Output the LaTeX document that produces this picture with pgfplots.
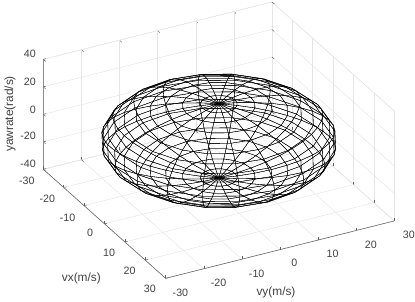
\documentclass[border=0pt]{standalone}
\usepackage{fontspec}
\setmainfont{Liberation Sans}
\usepackage{pgfplots}
\pgfplotsset{compat=1.18}
\definecolor{ax}{gray}{0.38}
\definecolor{txt}{gray}{0.25}
\definecolor{gr}{gray}{0.9}
\begin{document}
\begin{tikzpicture}
\path[use as bounding box] (0,0) rectangle (311.25pt,226.5pt);
\begin{axis}[
  at={(32.5pt,17.75pt)},anchor=south west,
  x={(1.529pt,-1.3625pt)},y={(2.8575pt,0.7175pt)},z={(0pt,1.03125pt)},
  xmin=-30,xmax=30,ymin=-30,ymax=30,zmin=-40,zmax=40,
  xtick={-30,-20,...,30},ytick={-30,-20,...,30},ztick={-40,-20,...,40},
  tick pos=left,
  grid=major,major grid style={gr,line width=0.35pt},
  axis line style={gr,line width=0.35pt},
  tick align=inside,major tick length=2.2pt,
  tick style={ax,line width=0.35pt},
  tick label style={font=\fontsize{8}{9}\selectfont,text=txt},
  x tick label style={xshift=-5.6pt,yshift=-0.2pt},
  y tick label style={xshift=7.6pt,yshift=-3pt},
  z tick label style={xshift=-2.2pt,yshift=2pt},
  /pgf/number format/assume math mode=true,
  clip=false,
  colormap={bk}{color(0)=(black) color(1)=(black)},
]
\addplot3[ax,line width=0.4pt] coordinates {(-30,-30,40) (-30,-30,-40) (30,-30,-40) (30,30,-40)};
\addplot3[mesh,mesh/rows=21,mesh/cols=21,line width=0.26pt,forget plot,z filter/.code={\pgfmathparse{#1-0.5}}] coordinates {
(0,0,-27)(0,0,-27)(0,0,-27)(0,0,-27)(0,0,-27)(0,0,-27)(0,0,-27)(0,0,-27)(0,0,-27)(0,0,-27)(0,0,-27)(0,0,-27)(0,0,-27)(0,0,-27)(0,0,-27)(0,0,-27)(0,0,-27)(0,0,-27)(0,0,-27)(0,0,-27)(0,0,-27)
(-4.27,0,-26.67)(-4.06,-1.32,-26.67)(-3.45,-2.51,-26.67)(-2.51,-3.45,-26.67)(-1.32,-4.06,-26.67)(0,-4.27,-26.67)(1.32,-4.06,-26.67)(2.51,-3.45,-26.67)(3.45,-2.51,-26.67)(4.06,-1.32,-26.67)(4.27,0,-26.67)(4.06,1.32,-26.67)(3.45,2.51,-26.67)(2.51,3.45,-26.67)(1.32,4.06,-26.67)(0,4.27,-26.67)(-1.32,4.06,-26.67)(-2.51,3.45,-26.67)(-3.45,2.51,-26.67)(-4.06,1.32,-26.67)(-4.27,0,-26.67)
(-8.44,0,-25.68)(-8.03,-2.61,-25.68)(-6.83,-4.96,-25.68)(-4.96,-6.83,-25.68)(-2.61,-8.03,-25.68)(0,-8.44,-25.68)(2.61,-8.03,-25.68)(4.96,-6.83,-25.68)(6.83,-4.96,-25.68)(8.03,-2.61,-25.68)(8.44,0,-25.68)(8.03,2.61,-25.68)(6.83,4.96,-25.68)(4.96,6.83,-25.68)(2.61,8.03,-25.68)(0,8.44,-25.68)(-2.61,8.03,-25.68)(-4.96,6.83,-25.68)(-6.83,4.96,-25.68)(-8.03,2.61,-25.68)(-8.44,0,-25.68)
(-12.39,0,-24.06)(-11.78,-3.83,-24.06)(-10.02,-7.28,-24.06)(-7.28,-10.02,-24.06)(-3.83,-11.78,-24.06)(0,-12.39,-24.06)(3.83,-11.78,-24.06)(7.28,-10.02,-24.06)(10.02,-7.28,-24.06)(11.78,-3.83,-24.06)(12.39,0,-24.06)(11.78,3.83,-24.06)(10.02,7.28,-24.06)(7.28,10.02,-24.06)(3.83,11.78,-24.06)(0,12.39,-24.06)(-3.83,11.78,-24.06)(-7.28,10.02,-24.06)(-10.02,7.28,-24.06)(-11.78,3.83,-24.06)(-12.39,0,-24.06)
(-16.05,0,-21.84)(-15.26,-4.96,-21.84)(-12.98,-9.43,-21.84)(-9.43,-12.98,-21.84)(-4.96,-15.26,-21.84)(0,-16.05,-21.84)(4.96,-15.26,-21.84)(9.43,-12.98,-21.84)(12.98,-9.43,-21.84)(15.26,-4.96,-21.84)(16.05,0,-21.84)(15.26,4.96,-21.84)(12.98,9.43,-21.84)(9.43,12.98,-21.84)(4.96,15.26,-21.84)(0,16.05,-21.84)(-4.96,15.26,-21.84)(-9.43,12.98,-21.84)(-12.98,9.43,-21.84)(-15.26,4.96,-21.84)(-16.05,0,-21.84)
(-19.30,0,-19.09)(-18.36,-5.96,-19.09)(-15.61,-11.34,-19.09)(-11.34,-15.61,-19.09)(-5.96,-18.36,-19.09)(0,-19.30,-19.09)(5.96,-18.36,-19.09)(11.34,-15.61,-19.09)(15.61,-11.34,-19.09)(18.36,-5.96,-19.09)(19.30,0,-19.09)(18.36,5.96,-19.09)(15.61,11.34,-19.09)(11.34,15.61,-19.09)(5.96,18.36,-19.09)(0,19.30,-19.09)(-5.96,18.36,-19.09)(-11.34,15.61,-19.09)(-15.61,11.34,-19.09)(-18.36,5.96,-19.09)(-19.30,0,-19.09)
(-22.09,0,-15.87)(-21.01,-6.83,-15.87)(-17.87,-12.98,-15.87)(-12.98,-17.87,-15.87)(-6.83,-21.01,-15.87)(0,-22.09,-15.87)(6.83,-21.01,-15.87)(12.98,-17.87,-15.87)(17.87,-12.98,-15.87)(21.01,-6.83,-15.87)(22.09,0,-15.87)(21.01,6.83,-15.87)(17.87,12.98,-15.87)(12.98,17.87,-15.87)(6.83,21.01,-15.87)(0,22.09,-15.87)(-6.83,21.01,-15.87)(-12.98,17.87,-15.87)(-17.87,12.98,-15.87)(-21.01,6.83,-15.87)(-22.09,0,-15.87)
(-24.32,0,-12.26)(-23.13,-7.52,-12.26)(-19.68,-14.30,-12.26)(-14.30,-19.68,-12.26)(-7.52,-23.13,-12.26)(0,-24.32,-12.26)(7.52,-23.13,-12.26)(14.30,-19.68,-12.26)(19.68,-14.30,-12.26)(23.13,-7.52,-12.26)(24.32,0,-12.26)(23.13,7.52,-12.26)(19.68,14.30,-12.26)(14.30,19.68,-12.26)(7.52,23.13,-12.26)(0,24.32,-12.26)(-7.52,23.13,-12.26)(-14.30,19.68,-12.26)(-19.68,14.30,-12.26)(-23.13,7.52,-12.26)(-24.32,0,-12.26)
(-25.96,0,-8.34)(-24.69,-8.02,-8.34)(-21.00,-15.26,-8.34)(-15.26,-21.00,-8.34)(-8.02,-24.69,-8.34)(0,-25.96,-8.34)(8.02,-24.69,-8.34)(15.26,-21.00,-8.34)(21.00,-15.26,-8.34)(24.69,-8.02,-8.34)(25.96,0,-8.34)(24.69,8.02,-8.34)(21.00,15.26,-8.34)(15.26,21.00,-8.34)(8.02,24.69,-8.34)(0,25.96,-8.34)(-8.02,24.69,-8.34)(-15.26,21.00,-8.34)(-21.00,15.26,-8.34)(-24.69,8.02,-8.34)(-25.96,0,-8.34)
(-26.96,0,-4.22)(-25.64,-8.33,-4.22)(-21.81,-15.85,-4.22)(-15.85,-21.81,-4.22)(-8.33,-25.64,-4.22)(0,-26.96,-4.22)(8.33,-25.64,-4.22)(15.85,-21.81,-4.22)(21.81,-15.85,-4.22)(25.64,-8.33,-4.22)(26.96,0,-4.22)(25.64,8.33,-4.22)(21.81,15.85,-4.22)(15.85,21.81,-4.22)(8.33,25.64,-4.22)(0,26.96,-4.22)(-8.33,25.64,-4.22)(-15.85,21.81,-4.22)(-21.81,15.85,-4.22)(-25.64,8.33,-4.22)(-26.96,0,-4.22)
(-27.30,0,0)(-25.96,-8.44,0)(-22.09,-16.05,0)(-16.05,-22.09,0)(-8.44,-25.96,0)(0,-27.30,0)(8.44,-25.96,0)(16.05,-22.09,0)(22.09,-16.05,0)(25.96,-8.44,0)(27.30,0,0)(25.96,8.44,0)(22.09,16.05,0)(16.05,22.09,0)(8.44,25.96,0)(0,27.30,0)(-8.44,25.96,0)(-16.05,22.09,0)(-22.09,16.05,0)(-25.96,8.44,0)(-27.30,0,0)
(-26.96,0,4.22)(-25.64,-8.33,4.22)(-21.81,-15.85,4.22)(-15.85,-21.81,4.22)(-8.33,-25.64,4.22)(0,-26.96,4.22)(8.33,-25.64,4.22)(15.85,-21.81,4.22)(21.81,-15.85,4.22)(25.64,-8.33,4.22)(26.96,0,4.22)(25.64,8.33,4.22)(21.81,15.85,4.22)(15.85,21.81,4.22)(8.33,25.64,4.22)(0,26.96,4.22)(-8.33,25.64,4.22)(-15.85,21.81,4.22)(-21.81,15.85,4.22)(-25.64,8.33,4.22)(-26.96,0,4.22)
(-25.96,0,8.34)(-24.69,-8.02,8.34)(-21.00,-15.26,8.34)(-15.26,-21.00,8.34)(-8.02,-24.69,8.34)(0,-25.96,8.34)(8.02,-24.69,8.34)(15.26,-21.00,8.34)(21.00,-15.26,8.34)(24.69,-8.02,8.34)(25.96,0,8.34)(24.69,8.02,8.34)(21.00,15.26,8.34)(15.26,21.00,8.34)(8.02,24.69,8.34)(0,25.96,8.34)(-8.02,24.69,8.34)(-15.26,21.00,8.34)(-21.00,15.26,8.34)(-24.69,8.02,8.34)(-25.96,0,8.34)
(-24.32,0,12.26)(-23.13,-7.52,12.26)(-19.68,-14.30,12.26)(-14.30,-19.68,12.26)(-7.52,-23.13,12.26)(0,-24.32,12.26)(7.52,-23.13,12.26)(14.30,-19.68,12.26)(19.68,-14.30,12.26)(23.13,-7.52,12.26)(24.32,0,12.26)(23.13,7.52,12.26)(19.68,14.30,12.26)(14.30,19.68,12.26)(7.52,23.13,12.26)(0,24.32,12.26)(-7.52,23.13,12.26)(-14.30,19.68,12.26)(-19.68,14.30,12.26)(-23.13,7.52,12.26)(-24.32,0,12.26)
(-22.09,0,15.87)(-21.01,-6.83,15.87)(-17.87,-12.98,15.87)(-12.98,-17.87,15.87)(-6.83,-21.01,15.87)(0,-22.09,15.87)(6.83,-21.01,15.87)(12.98,-17.87,15.87)(17.87,-12.98,15.87)(21.01,-6.83,15.87)(22.09,0,15.87)(21.01,6.83,15.87)(17.87,12.98,15.87)(12.98,17.87,15.87)(6.83,21.01,15.87)(0,22.09,15.87)(-6.83,21.01,15.87)(-12.98,17.87,15.87)(-17.87,12.98,15.87)(-21.01,6.83,15.87)(-22.09,0,15.87)
(-19.30,0,19.09)(-18.36,-5.96,19.09)(-15.61,-11.34,19.09)(-11.34,-15.61,19.09)(-5.96,-18.36,19.09)(0,-19.30,19.09)(5.96,-18.36,19.09)(11.34,-15.61,19.09)(15.61,-11.34,19.09)(18.36,-5.96,19.09)(19.30,0,19.09)(18.36,5.96,19.09)(15.61,11.34,19.09)(11.34,15.61,19.09)(5.96,18.36,19.09)(0,19.30,19.09)(-5.96,18.36,19.09)(-11.34,15.61,19.09)(-15.61,11.34,19.09)(-18.36,5.96,19.09)(-19.30,0,19.09)
(-16.05,0,21.84)(-15.26,-4.96,21.84)(-12.98,-9.43,21.84)(-9.43,-12.98,21.84)(-4.96,-15.26,21.84)(0,-16.05,21.84)(4.96,-15.26,21.84)(9.43,-12.98,21.84)(12.98,-9.43,21.84)(15.26,-4.96,21.84)(16.05,0,21.84)(15.26,4.96,21.84)(12.98,9.43,21.84)(9.43,12.98,21.84)(4.96,15.26,21.84)(0,16.05,21.84)(-4.96,15.26,21.84)(-9.43,12.98,21.84)(-12.98,9.43,21.84)(-15.26,4.96,21.84)(-16.05,0,21.84)
(-12.39,0,24.06)(-11.78,-3.83,24.06)(-10.02,-7.28,24.06)(-7.28,-10.02,24.06)(-3.83,-11.78,24.06)(0,-12.39,24.06)(3.83,-11.78,24.06)(7.28,-10.02,24.06)(10.02,-7.28,24.06)(11.78,-3.83,24.06)(12.39,0,24.06)(11.78,3.83,24.06)(10.02,7.28,24.06)(7.28,10.02,24.06)(3.83,11.78,24.06)(0,12.39,24.06)(-3.83,11.78,24.06)(-7.28,10.02,24.06)(-10.02,7.28,24.06)(-11.78,3.83,24.06)(-12.39,0,24.06)
(-8.44,0,25.68)(-8.03,-2.61,25.68)(-6.83,-4.96,25.68)(-4.96,-6.83,25.68)(-2.61,-8.03,25.68)(0,-8.44,25.68)(2.61,-8.03,25.68)(4.96,-6.83,25.68)(6.83,-4.96,25.68)(8.03,-2.61,25.68)(8.44,0,25.68)(8.03,2.61,25.68)(6.83,4.96,25.68)(4.96,6.83,25.68)(2.61,8.03,25.68)(0,8.44,25.68)(-2.61,8.03,25.68)(-4.96,6.83,25.68)(-6.83,4.96,25.68)(-8.03,2.61,25.68)(-8.44,0,25.68)
(-4.27,0,26.67)(-4.06,-1.32,26.67)(-3.45,-2.51,26.67)(-2.51,-3.45,26.67)(-1.32,-4.06,26.67)(0,-4.27,26.67)(1.32,-4.06,26.67)(2.51,-3.45,26.67)(3.45,-2.51,26.67)(4.06,-1.32,26.67)(4.27,0,26.67)(4.06,1.32,26.67)(3.45,2.51,26.67)(2.51,3.45,26.67)(1.32,4.06,26.67)(0,4.27,26.67)(-1.32,4.06,26.67)(-2.51,3.45,26.67)(-3.45,2.51,26.67)(-4.06,1.32,26.67)(-4.27,0,26.67)
(0,0,27)(0,0,27)(0,0,27)(0,0,27)(0,0,27)(0,0,27)(0,0,27)(0,0,27)(0,0,27)(0,0,27)(0,0,27)(0,0,27)(0,0,27)(0,0,27)(0,0,27)(0,0,27)(0,0,27)(0,0,27)(0,0,27)(0,0,27)(0,0,27)
};
\end{axis}
\node[font=\fontsize{8.9}{10}\selectfont,text=txt] at (61pt,17.5pt) {vx(m/s)};
\node[font=\fontsize{8.9}{10}\selectfont,text=txt] at (207pt,6.8pt) {vy(m/s)};
\node[font=\fontsize{8.9}{10}\selectfont,text=txt,rotate=90] at (7.5pt,141pt) {yawrate(rad/s)};
\end{tikzpicture}
\end{document}
